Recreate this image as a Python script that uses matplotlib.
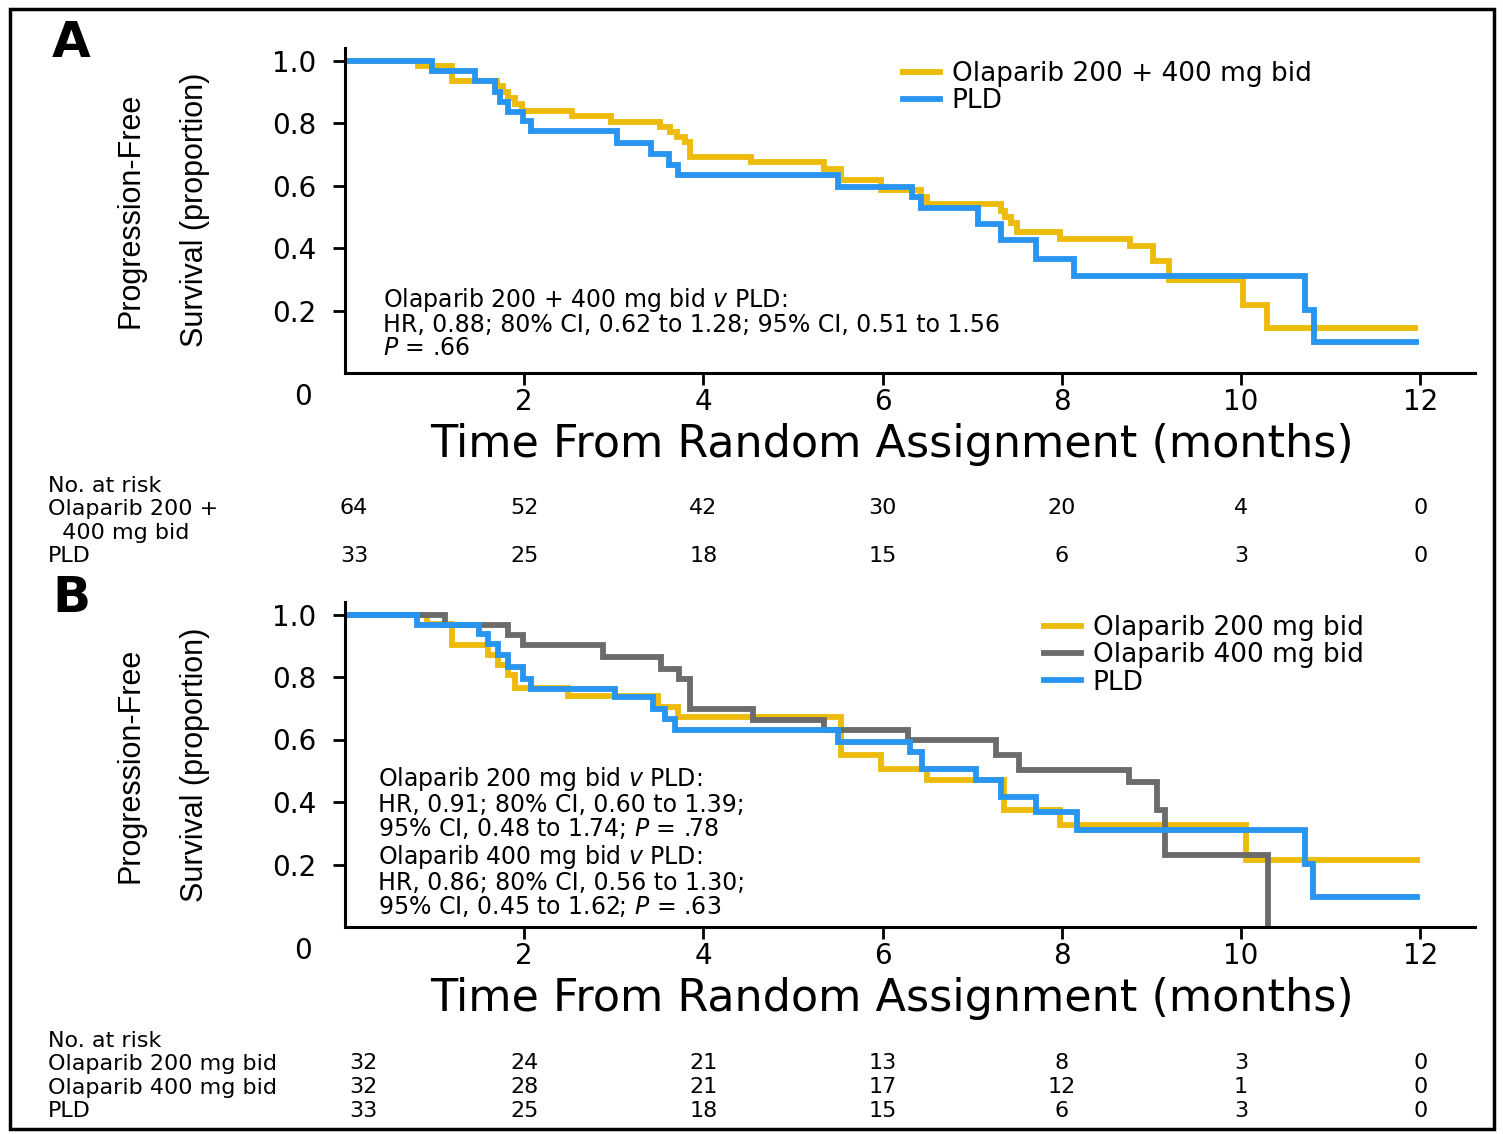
import matplotlib.pyplot as plt
from matplotlib.patches import Rectangle
from matplotlib.transforms import blended_transform_factory

# Panel A: Kaplan-Meier steps (time in months, proportion)
ola_a_t = [0, 0.82, 1.19, 1.70, 1.76, 1.82, 1.90, 1.97, 2.53, 2.97, 3.52, 3.63, 3.71, 3.79, 3.85,
           4.53, 5.35, 5.53, 5.98, 6.43, 6.50, 7.32, 7.36, 7.43, 7.50, 7.98, 8.76, 9.02, 9.19,
           10.02, 10.29, 11.94]
ola_a_s = [1.0, 0.981, 0.935, 0.918, 0.900, 0.880, 0.860, 0.840, 0.821, 0.803, 0.787, 0.771, 0.755,
           0.739, 0.691, 0.675, 0.654, 0.617, 0.585, 0.563, 0.542, 0.520, 0.500, 0.480, 0.451,
           0.430, 0.406, 0.358, 0.297, 0.217, 0.143, 0.143]
pld_a_t = [0, 0.97, 1.45, 1.67, 1.73, 1.82, 1.99, 2.08, 3.03, 3.42, 3.62, 3.72, 5.50, 6.33, 6.43,
           7.06, 7.32, 7.71, 8.13, 10.71, 10.81, 11.95]
pld_a_s = [1.0, 0.965, 0.935, 0.900, 0.868, 0.835, 0.805, 0.775, 0.735, 0.700, 0.665, 0.633, 0.595,
           0.562, 0.527, 0.478, 0.425, 0.366, 0.312, 0.203, 0.100, 0.100]

# Panel B
ola200_t = [0, 0.91, 1.19, 1.60, 1.71, 1.82, 1.90, 2.49, 3.49, 3.72, 5.53, 5.98, 6.50, 7.35, 7.98,
            10.06, 11.96]
ola200_s = [1.0, 0.969, 0.901, 0.869, 0.837, 0.805, 0.766, 0.738, 0.704, 0.672, 0.550, 0.507, 0.470,
            0.374, 0.326, 0.214, 0.214]
ola400_t = [0, 1.12, 1.82, 1.99, 2.88, 3.53, 3.73, 3.85, 4.55, 5.35, 6.28, 7.26, 7.52, 8.75, 9.06,
            9.15, 10.30]
ola400_s = [1.0, 0.965, 0.933, 0.901, 0.864, 0.826, 0.795, 0.698, 0.661, 0.629, 0.597, 0.550, 0.502,
            0.464, 0.374, 0.230, 0.0]
pld_b_t = [0, 0.80, 1.49, 1.60, 1.71, 1.82, 1.99, 2.08, 3.01, 3.44, 3.57, 3.68, 5.50, 6.31, 6.44,
           7.04, 7.32, 7.71, 8.17, 10.71, 10.80, 11.96]
pld_b_s = [1.0, 0.965, 0.938, 0.906, 0.869, 0.832, 0.795, 0.762, 0.736, 0.698, 0.667, 0.630, 0.592,
           0.560, 0.507, 0.470, 0.416, 0.368, 0.310, 0.203, 0.097, 0.097]

risk_times = [0, 2, 4, 6, 8, 10, 12]
risk_a_ola = [64, 52, 42, 30, 20, 4, 0]
risk_a_pld = [33, 25, 18, 15, 6, 3, 0]
risk_b_200 = [32, 24, 21, 13, 8, 3, 0]
risk_b_400 = [32, 28, 21, 17, 12, 1, 0]
risk_b_pld = [33, 25, 18, 15, 6, 3, 0]

YELLOW = '#EDBB0A'
BLUE = '#2896F0'
GRAY = '#6B6B6B'

W, H = 1503, 1134
FS_TXT = 17     # annotations
FS_LEG = 19
FS_RISK = 16
FS_TICK = 20
LS_TXT = 0.95
LS_RISK = 1.22


def fx(px):
    return px / W


def fy(py):
    return 1 - py / H


fig = plt.figure(figsize=(W / 100, H / 100), dpi=100)
fig.patches.append(Rectangle((fx(10), fy(1129)), fx(1494) - fx(10), fy(9) - fy(1129),
                             transform=fig.transFigure, fill=False, lw=2.5, ec='black'))


def setup_axes(top_px, bottom_px):
    ax = fig.add_axes([fx(345), fy(bottom_px), fx(1475) - fx(345), fy(top_px) - fy(bottom_px)])
    ax.set_xlim(0, 12.61)
    ax.set_ylim(0, 1.04)
    for s in ['top', 'right']:
        ax.spines[s].set_visible(False)
    for s in ['left', 'bottom']:
        ax.spines[s].set_linewidth(2.2)
    ax.set_xticks([2, 4, 6, 8, 10, 12])
    ax.set_yticks([0.2, 0.4, 0.6, 0.8, 1.0])
    ax.set_yticklabels(['0.2', '0.4', '0.6', '0.8', '1.0'])
    ax.tick_params(axis='both', direction='out', length=8.5, width=2, labelsize=FS_TICK)
    ax.tick_params(axis='y', pad=12)
    ax.tick_params(axis='x', pad=2)
    ax.patch.set_alpha(0)
    return ax


def ylabel(cy):
    fig.text(fx(130), fy(cy), 'Progression-Free', rotation=90, ha='center', va='center',
             fontsize=22, family='Liberation Sans')
    fig.text(fx(195), fy(cy), 'Survival (proportion)', rotation=90, ha='center', va='center',
             fontsize=22, family='Liberation Sans')


def risk_columns(ax, y_px, rows, x0_shift, gap_rows=False):
    # one text per time column, rows stacked with newlines
    tr = blended_transform_factory(ax.transData, fig.transFigure)
    for i, t in enumerate(risk_times):
        vals = [str(r[i]) for r in rows]
        s = ('\n\n' if gap_rows else '\n').join(vals)
        xx = t + (x0_shift if t == 0 else 0)
        fig.text(xx, fy(y_px), s, transform=tr, ha='center', va='center', fontsize=FS_RISK,
                 linespacing=LS_RISK, multialignment='center')


# ---------- Panel A ----------
axA = setup_axes(48, 373)
axA.step(ola_a_t, ola_a_s, where='post', color=YELLOW, lw=4.2, label='Olaparib 200 + 400 mg bid',
         solid_joinstyle='miter')
axA.step(pld_a_t, pld_a_s, where='post', color=BLUE, lw=4.2, label='PLD', solid_joinstyle='miter')
axA.legend(loc='upper left', bbox_to_anchor=(fx(903), fy(61)), bbox_transform=fig.transFigure,
           frameon=False, fontsize=FS_LEG, handlelength=1.4, handletextpad=0.45, labelspacing=0.05,
           borderpad=0, borderaxespad=0)

fig.text(fx(71), fy(43), 'A', fontsize=36, fontweight='bold', ha='center', va='center')
ylabel(210)
fig.text(fx(303), fy(397), '0', fontsize=FS_TICK, ha='center', va='center')
fig.text(fx(892), fy(444), 'Time From Random Assignment (months)', fontsize=32, ha='center',
         va='center')
fig.text(fx(383), fy(323),
         'Olaparib 200 + 400 mg bid $\\it{v}$ PLD:\n'
         'HR, 0.88; 80% CI, 0.62 to 1.28; 95% CI, 0.51 to 1.56\n'
         '$\\it{P}$ = .66',
         fontsize=FS_TXT, va='center', linespacing=LS_TXT)

fig.text(fx(48), fy(521), 'No. at risk\nOlaparib 200 +\n  400 mg bid\nPLD', fontsize=FS_RISK,
         va='center', linespacing=LS_RISK)
risk_columns(axA, 532, [risk_a_ola, risk_a_pld], 0.1, gap_rows=True)

# ---------- Panel B ----------
axB = setup_axes(602, 927)
axB.step(ola200_t, ola200_s, where='post', color=YELLOW, lw=4.2, label='Olaparib 200 mg bid',
         solid_joinstyle='miter')
axB.step(ola400_t, ola400_s, where='post', color=GRAY, lw=4.2, label='Olaparib 400 mg bid',
         solid_joinstyle='miter')
axB.step(pld_b_t, pld_b_s, where='post', color=BLUE, lw=4.2, label='PLD', solid_joinstyle='miter')
axB.legend(loc='upper left', bbox_to_anchor=(fx(1044), fy(615)), bbox_transform=fig.transFigure,
           frameon=False, fontsize=FS_LEG, handlelength=1.4, handletextpad=0.45, labelspacing=0.05,
           borderpad=0, borderaxespad=0)

fig.text(fx(71), fy(598), 'B', fontsize=36, fontweight='bold', ha='center', va='center')
ylabel(765)
fig.text(fx(303), fy(951), '0', fontsize=FS_TICK, ha='center', va='center')
fig.text(fx(892), fy(999), 'Time From Random Assignment (months)', fontsize=32, ha='center',
         va='center')
fig.text(fx(378), fy(803),
         'Olaparib 200 mg bid $\\it{v}$ PLD:\n'
         'HR, 0.91; 80% CI, 0.60 to 1.39;\n'
         '95% CI, 0.48 to 1.74; $\\it{P}$ = .78',
         fontsize=FS_TXT, va='center', linespacing=LS_TXT)
fig.text(fx(378), fy(881),
         'Olaparib 400 mg bid $\\it{v}$ PLD:\n'
         'HR, 0.86; 80% CI, 0.56 to 1.30;\n'
         '95% CI, 0.45 to 1.62; $\\it{P}$ = .63',
         fontsize=FS_TXT, va='center', linespacing=LS_TXT)

fig.text(fx(48), fy(1076), 'No. at risk\nOlaparib 200 mg bid\nOlaparib 400 mg bid\nPLD',
         fontsize=FS_RISK, va='center', linespacing=LS_RISK)
risk_columns(axB, 1087, [risk_b_200, risk_b_400, risk_b_pld], 0.2)

fig.savefig('out.png', dpi=100)
